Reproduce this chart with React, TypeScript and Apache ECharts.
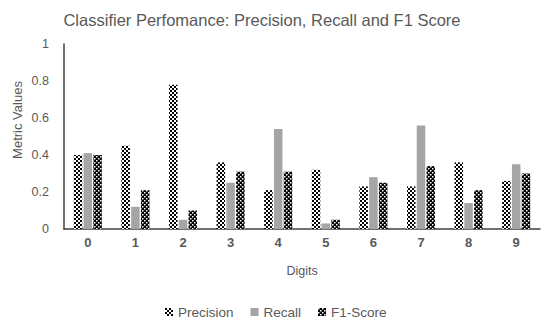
import React, { useEffect, useRef } from "react";
import * as echarts from "echarts";

const categories = ["0", "1", "2", "3", "4", "5", "6", "7", "8", "9"];
const precision = [0.4, 0.45, 0.78, 0.36, 0.21, 0.32, 0.23, 0.23, 0.36, 0.26];
const recall = [0.41, 0.12, 0.05, 0.25, 0.54, 0.03, 0.28, 0.56, 0.14, 0.35];
const f1 = [0.4, 0.21, 0.1, 0.31, 0.31, 0.05, 0.25, 0.34, 0.21, 0.3];
const yTicks = [0, 0.2, 0.4, 0.6, 0.8, 1];

function makePattern(dark: boolean): HTMLCanvasElement {
  const c = document.createElement("canvas");
  c.width = 4;
  c.height = 4;
  const ctx = c.getContext("2d")!;
  if (dark) {
    ctx.fillStyle = "#000";
    ctx.fillRect(0, 0, 4, 4);
    ctx.fillStyle = "#fff";
    ctx.fillRect(0, 0, 1.5, 1.5);
    ctx.fillRect(2, 2, 1.5, 1.5);
  } else {
    ctx.fillStyle = "#fff";
    ctx.fillRect(0, 0, 4, 4);
    ctx.fillStyle = "#000";
    ctx.fillRect(0, 0, 2, 2);
    ctx.fillRect(2, 2, 2, 2);
  }
  return c;
}

export default function App() {
  const ref = useRef<HTMLDivElement>(null);
  useEffect(() => {
    if (!ref.current) return;
    const chart = echarts.init(ref.current, undefined, { renderer: "svg" });
    const pLight = { image: makePattern(false), repeat: "repeat" };
    const pDark = { image: makePattern(true), repeat: "repeat" };
    const font = "'Liberation Sans', Arial, sans-serif";
    chart.setOption({
      animation: false,
      backgroundColor: "#fff",
      title: {
        text: "Classifier Perfomance: Precision, Recall and F1 Score",
        left: 257,
        textAlign: "center",
        top: 6,
        textStyle: { fontFamily: font, fontSize: 16.5, fontWeight: "normal", color: "#595959" },
      },
      legend: {
        bottom: 2,
        left: 160,
        itemWidth: 8,
        itemHeight: 8,
        itemGap: 17,
        icon: "rect",
        textStyle: { fontFamily: font, fontSize: 13.5, color: "#595959" },
        data: ["Precision", "Recall", "F1-Score"],
      },
      grid: { left: 64, right: 10, top: 44, bottom: 97 },
      xAxis: {
        type: "category",
        data: categories,
        name: "Digits",
        nameLocation: "middle",
        nameGap: 35,
        nameTextStyle: { fontFamily: font, fontSize: 12.5, color: "#595959" },
        axisLine: { lineStyle: { color: "#404040", width: 1.5 } },
        axisTick: { show: false },
        axisLabel: { fontFamily: font, fontSize: 13, fontWeight: "bold", color: "#595959", margin: 7 },
      },
      yAxis: {
        type: "value",
        min: 0,
        max: 1,
        interval: 0.2,
        axisLine: { show: true, lineStyle: { color: "#404040", width: 1.5 } },
        axisTick: { show: false },
        splitLine: { show: false },
        axisLabel: {
          fontFamily: font,
          fontSize: 12.5,
          color: "#595959",
          margin: 15,
          formatter: (v: number) => (yTicks.includes(Math.round(v * 10) / 10) ? String(Math.round(v * 10) / 10) : ""),
        },
      },
      graphic: [
        {
          type: "text",
          x: 17,
          y: 120,
          rotation: Math.PI / 2,
          style: {
            text: "Metric Values",
            fontFamily: font,
            fontSize: 13,
            fill: "#595959",
            align: "center",
            verticalAlign: "middle",
          },
        },
      ],
      series: [
        {
          name: "Precision",
          type: "bar",
          data: precision,
          barWidth: 8.5,
          barGap: "15%",
          itemStyle: { color: pLight },
        },
        {
          name: "Recall",
          type: "bar",
          data: recall,
          barWidth: 8.5,
          barGap: "15%",
          itemStyle: { color: "#a5a5a5" },
        },
        {
          name: "F1-Score",
          type: "bar",
          data: f1,
          barWidth: 8.5,
          barGap: "15%",
          itemStyle: { color: pDark },
        },
      ],
    });
    return () => chart.dispose();
  }, []);
  return <div ref={ref} style={{ width: 550, height: 326, margin: -8 }} />;
}
